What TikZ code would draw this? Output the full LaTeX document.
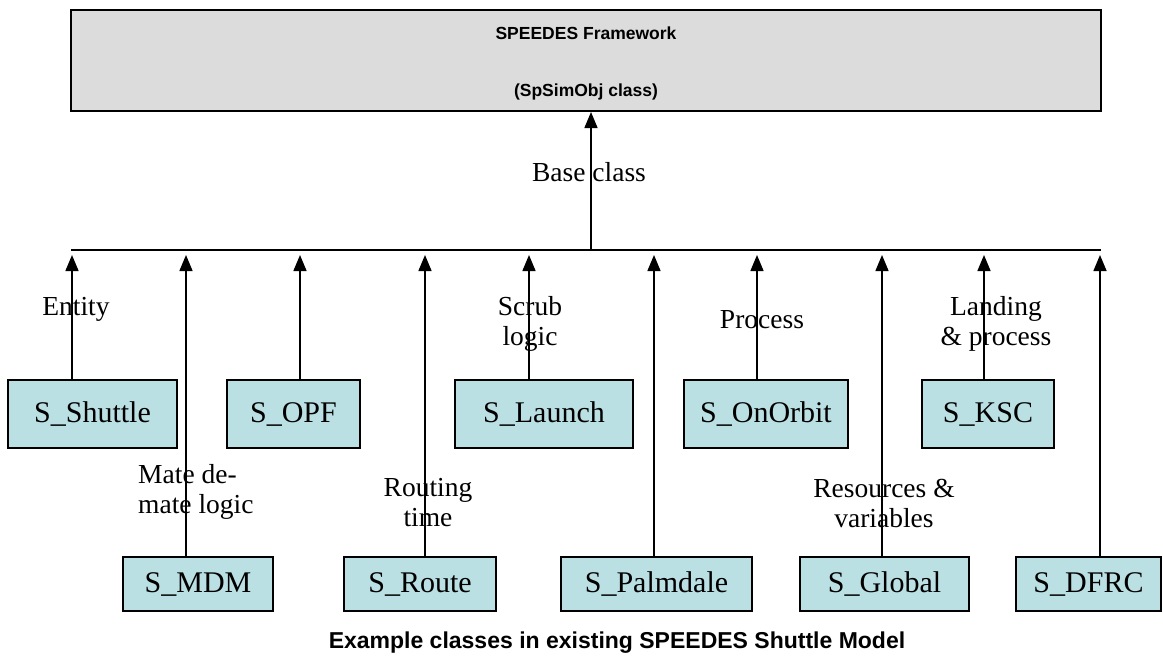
\documentclass[tikz,border=0pt]{standalone}
\usepackage{fontspec}
\setmainfont{Liberation Serif}
\newfontfamily\arialf{Liberation Sans}
\usetikzlibrary{arrows.meta}
\definecolor{clsfill}{RGB}{186,224,228}
\definecolor{topfill}{RGB}{220,220,220}
\begin{document}
\begin{tikzpicture}[x=1pt,y=-1pt,
  cls/.style={draw=black, line width=1.8pt, fill=clsfill, inner sep=0pt,
    font=\fontsize{30}{34}\selectfont},
  lbl/.style={font=\fontsize{27.5}{30}\selectfont, align=center, inner sep=0pt},
  lbll/.style={lbl, align=left},
  ttl/.style={font=\arialf\bfseries\fontsize{17.5}{20}\selectfont, inner sep=0pt},
  wire/.style={line width=1.5pt},
  arr/.style={line width=1.5pt, -{Triangle[length=16pt,width=13pt]}}]
\useasboundingbox (0,0) rectangle (1163,665);

% top framework box
\node[draw=black, line width=2pt, fill=topfill, minimum width=1030pt,
  minimum height=101pt, inner sep=0pt] (top) at (586,60.5) {};
\node[ttl] (tt1) at (586,33) {SPEEDES Framework};
\node[ttl] (tt2) at (586,92) {(SpSimObj class)};

% bus
\coordinate (busL) at (71,250);
\coordinate (busR) at (1101,250);
\coordinate (busM) at (591,250);
\draw[wire] (busL) -- (busR);
\draw[arr] (busM) -- (top.south -| busM);
\node[lbl] (lbase) at (589,172) {Base class};

% row 1 classes
\node[cls, minimum width=169pt, minimum height=68pt] (shuttle) at (92.5,414) {S\_Shuttle};
\node[cls, minimum width=133pt, minimum height=68pt] (opf) at (293.5,414) {S\_OPF};
\node[cls, minimum width=178pt, minimum height=68pt] (launch) at (544,414) {S\_Launch};
\node[cls, minimum width=164pt, minimum height=68pt] (onorbit) at (766,414) {S\_OnOrbit};
\node[cls, minimum width=132pt, minimum height=68pt] (ksc) at (988,414) {S\_KSC};

% row 2 classes
\node[cls, minimum width=150pt, minimum height=54pt] (mdm) at (198,584) {S\_MDM};
\node[cls, minimum width=152pt, minimum height=54pt] (route) at (420,584) {S\_Route};
\node[cls, minimum width=191pt, minimum height=54pt] (palm) at (656.5,584) {S\_Palmdale};
\node[cls, minimum width=169pt, minimum height=54pt] (global) at (884.5,584) {S\_Global};
\node[cls, minimum width=145pt, minimum height=54pt] (dfrc) at (1088.5,584) {S\_DFRC};

% arrow tips on the bus
\coordinate (t1) at (72,255);
\coordinate (t2) at (186,255);
\coordinate (t3) at (300,255);
\coordinate (t4) at (425,255);
\coordinate (t5) at (529,255);
\coordinate (t6) at (654,255);
\coordinate (t7) at (757,255);
\coordinate (t8) at (882,255);
\coordinate (t9) at (984,255);
\coordinate (t10) at (1100,255);

\draw[arr] (shuttle.north -| t1) -- (t1);
\draw[arr] (mdm.north -| t2) -- (t2);
\draw[arr] (opf.north -| t3) -- (t3);
\draw[arr] (route.north -| t4) -- (t4);
\draw[arr] (launch.north -| t5) -- (t5);
\draw[arr] (palm.north -| t6) -- (t6);
\draw[arr] (onorbit.north -| t7) -- (t7);
\draw[arr] (global.north -| t8) -- (t8);
\draw[arr] (ksc.north -| t9) -- (t9);
\draw[arr] (dfrc.north -| t10) -- (t10);

% labels
\node[lbl] (lentity) at (76,309) {Entity};
\node[lbl] (lscrub) at (530,324) {Scrub\\logic};
\node[lbl] (lproc) at (762,320) {Process};
\node[lbl] (lland) at (996,324) {Landing\\\& process};
\node[lbll, anchor=west] (lmate) at (138,492) {Mate de-\\mate logic};
\node[lbl] (lroute) at (428,503) {Routing\\time};
\node[lbl] (lres) at (884,503) {Resources \&\\variables};

% caption
\node[font=\arialf\bfseries\fontsize{23}{26}\selectfont, inner sep=0pt] (cap) at (617,643)
  {Example classes in existing SPEEDES Shuttle Model};
\end{tikzpicture}
\end{document}
